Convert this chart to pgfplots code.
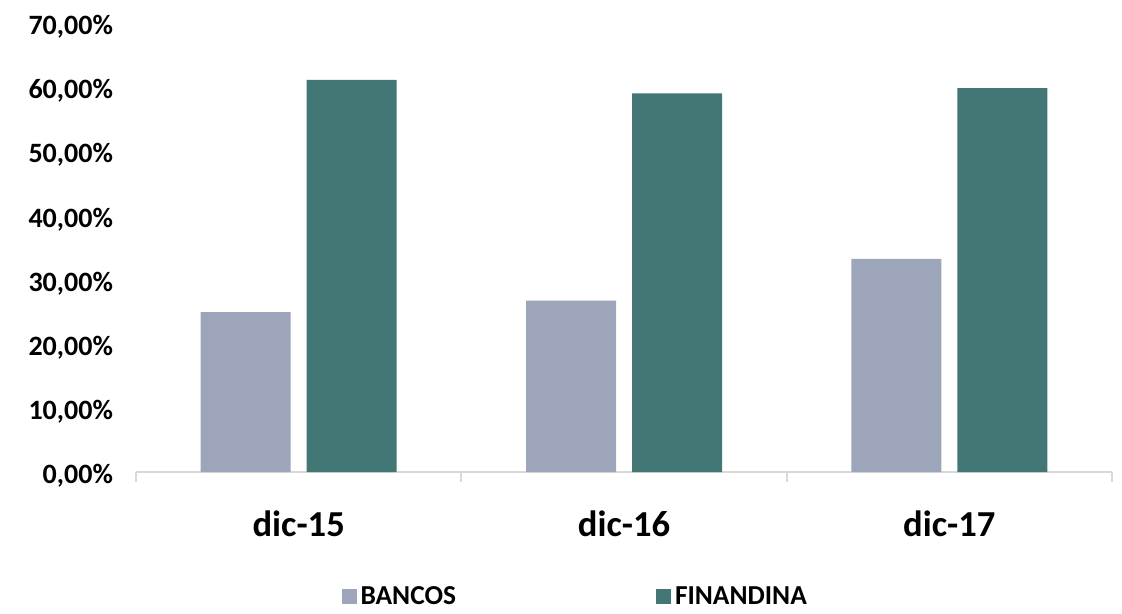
\documentclass[border=0pt]{standalone}
\usepackage{pgfplots}
\pgfplotsset{compat=1.18}
\usepackage{fontspec}
\setmainfont{Carlito}
\definecolor{bancos}{HTML}{9CA5BA}
\definecolor{finandina}{HTML}{427776}
\definecolor{axisgray}{HTML}{D9D9D9}
\begin{document}
\begin{tikzpicture}
\begin{axis}[
    scale only axis,
    width=488pt, height=224.65pt,
    ybar=8pt, bar width=45pt,
    xmin=-0.5, xmax=2.5,
    ymin=0, ymax=70,
    axis x line*=bottom, axis y line*=left,
    x axis line style={axisgray, line width=1pt},
    y axis line style={draw=none},
    xtick={0,1,2},
    xticklabels={dic-15,dic-16,dic-17},
    minor xtick={-0.5,0.5,1.5,2.5},
    major tick length=0pt, minor tick length=5pt,
    tick align=outside,
    x tick style={axisgray, line width=1pt},
    major x tick style={draw=none},
    y tick style={draw=none},
    ytick={0,10,...,70},
    /pgf/number format/assume math mode=true,
    yticklabel={\pgfmathprintnumber[fixed,fixed zerofill,precision=2,use comma]{\tick}\%},
    yticklabel style={font=\bfseries\fontsize{14}{16}\selectfont, xshift=-8pt, yshift=-2pt},
    xticklabel style={font=\bfseries\fontsize{18.3}{20}\selectfont, anchor=base, yshift=-32pt},
    legend columns=2,
    legend style={draw=none, fill=none, at={(axis description cs:0.204,-0.278)}, anchor=west,
        font=\bfseries\fontsize{13.7}{15}\selectfont,
        /tikz/every even column/.append style={column sep=98pt}},
    legend image code/.code={\path[#1,draw=none] (-2pt,-3.75pt) rectangle (5.5pt,3.75pt);},
]
\addplot[fill=bancos, draw=none] coordinates {(0,24.9) (1,26.7) (2,33.2)};
\addplot[fill=finandina, draw=none] coordinates {(0,61.1) (1,59.0) (2,59.8)};
\legend{BANCOS,FINANDINA}
\end{axis}
\pgfresetboundingbox
\path (-68pt,-71pt) rectangle (493pt,236pt);
\end{tikzpicture}
\end{document}
